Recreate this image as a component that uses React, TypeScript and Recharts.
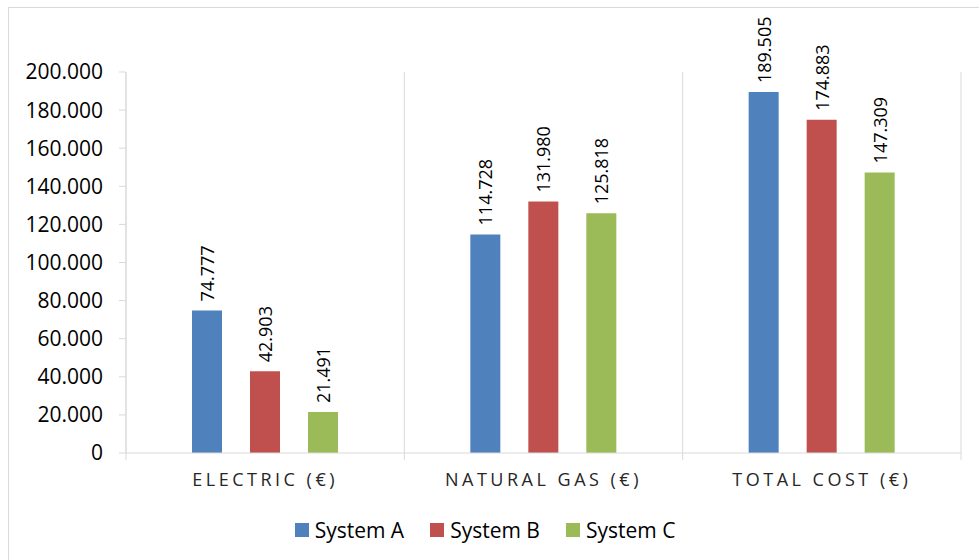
import { Bar, BarChart, CartesianGrid, LabelList, Legend, XAxis, YAxis } from 'recharts';

const categories = ['ELECTRIC (€)', 'NATURAL GAS (€)', 'TOTAL COST (€)'];
const systemA = [74777, 114728, 189505];
const systemB = [42903, 131980, 174883];
const systemC = [21491, 125818, 147309];
const seriesNames = ['System A', 'System B', 'System C'];
const seriesKeys = ['a', 'b', 'c'];
const seriesColors = ['#4F81BD', '#C0504D', '#9BBB59'];
const yTicks = [0, 20000, 40000, 60000, 80000, 100000, 120000, 140000, 160000, 180000, 200000];

const data = categories.map((name, i) => ({ name, a: systemA[i], b: systemB[i], c: systemC[i] }));

const FONT = '"Open Sans", "Noto Sans", sans-serif';
const GRID = '#d9d9d9';
const W = 970;
const H = 552;
const MARGIN = { top: 64, right: 18, left: 0, bottom: 0 };
const Y_W = 117;
const PLOT_W = W - Y_W - MARGIN.right;

// dot as thousands separator, like the source sheet
const fmt = (v: number) => (v === 0 ? '0' : String(v).replace(/\B(?=(\d{3})+(?!\d))/g, '.'));

// eslint-disable-next-line @typescript-eslint/no-explicit-any
function CategoryTick({ x, y, payload, index }: any) {
  const half = PLOT_W / categories.length / 2;
  return (
    <g>
      <line x1={x - half} x2={x - half} y1={y - 7} y2={y} stroke={GRID} />
      {index === categories.length - 1 && (
        <line x1={x + half} x2={x + half} y1={y - 7} y2={y} stroke={GRID} />
      )}
      <text
        x={x}
        y={y + 26}
        textAnchor="middle"
        fontSize={18}
        letterSpacing={3.5}
        fill="#262626"
        fontFamily={FONT}
      >
        {payload.value}
      </text>
    </g>
  );
}

// eslint-disable-next-line @typescript-eslint/no-explicit-any
function ValueLabel({ x, y, width, value }: any) {
  const cx = Number(x) + Number(width) / 2;
  const ty = Number(y) - 9;
  return (
    <text
      x={cx}
      y={ty}
      transform={`rotate(-90 ${cx} ${ty})`}
      textAnchor="start"
      dominantBaseline="central"
      fontSize={18}
      fill="#000"
      fontFamily={FONT}
    >
      {fmt(Number(value))}
    </text>
  );
}

function LegendBox() {
  return (
    <div
      style={{
        height: 60,
        display: 'flex',
        justifyContent: 'center',
        alignItems: 'center',
        gap: 26,
        fontFamily: FONT,
        fontSize: 21,
        color: '#000',
      }}
    >
      {seriesNames.map((n, i) => (
        <div key={n} style={{ display: 'flex', alignItems: 'center' }}>
          <span style={{ width: 14, height: 14, background: seriesColors[i], marginRight: 6 }} />
          <span>{n}</span>
        </div>
      ))}
    </div>
  );
}

export default function App() {
  return (
    <div
      style={{
        position: 'fixed',
        top: 7,
        left: 8,
        borderTop: `1px solid ${GRID}`,
        borderLeft: `1px solid ${GRID}`,
        background: '#fff',
      }}
    >
      <BarChart width={W} height={H} data={data} margin={MARGIN} barSize={30} barGap={28}>
        <CartesianGrid
          horizontal={false}
          stroke={GRID}
          verticalCoordinatesGenerator={({ offset }: any) =>
            [0, 1, 2, 3].map((i) => offset.left + (i * offset.width) / categories.length)
          }
        />
        <XAxis
          dataKey="name"
          height={47}
          tickSize={7}
          tickMargin={0}
          tickLine={false}
          axisLine={{ stroke: GRID }}
          tick={<CategoryTick />}
          interval={0}
        />
        <YAxis
          width={Y_W}
          domain={[0, 200000]}
          ticks={yTicks}
          tickFormatter={fmt}
          tickSize={7}
          tickMargin={16}
          axisLine={{ stroke: GRID }}
          tickLine={{ stroke: GRID }}
          tick={{ fontSize: 21, fill: '#000', fontFamily: FONT }}
        />
        <Legend verticalAlign="bottom" content={<LegendBox />} />
        {seriesKeys.map((k, i) => (
          <Bar key={k} dataKey={k} name={seriesNames[i]} fill={seriesColors[i]} isAnimationActive={false}>
            <LabelList dataKey={k} content={<ValueLabel />} />
          </Bar>
        ))}
      </BarChart>
    </div>
  );
}
